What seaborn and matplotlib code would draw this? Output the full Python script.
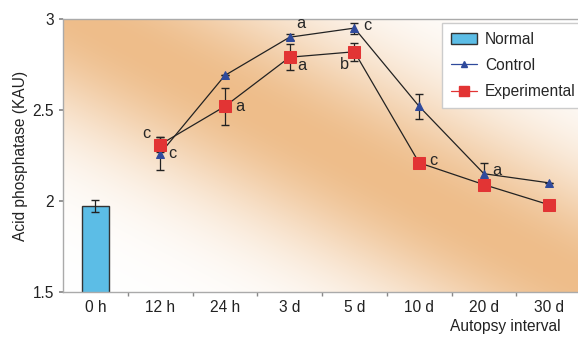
import matplotlib
matplotlib.use("Agg")
import matplotlib.pyplot as plt
from matplotlib.lines import Line2D
from matplotlib.patches import Patch
import numpy as np
import seaborn as sns

# --- data ---
categories = ["0 h", "12 h", "24 h", "3 d", "5 d", "10 d", "20 d", "30 d"]

normal_value = 1.97
normal_err = 0.033

control_values = [2.26, 2.69, 2.90, 2.95, 2.52, 2.15, 2.10]
control_errs = [0.09, 0.0, 0.015, 0.03, 0.07, 0.06, 0.0]
control_letters = ["c", "", "a", "c", "", "a", ""]

exp_values = [2.31, 2.52, 2.79, 2.82, 2.21, 2.09, 1.98]
exp_errs = [0.04, 0.10, 0.07, 0.05, 0.0, 0.0, 0.0]
exp_letters = ["c", "a", "a", "b", "c", "", ""]

# label offsets (points) for the significance letters
control_offsets = [(9, 0), None, (8, 10), (9, 2), None, (9, 2), None]
exp_offsets = [(-10, 8), (11, 0), (9, -6), (-7, -9), (10, 2), None, None]

BAR_BLUE = "#5cbde6"
CTRL_BLUE = "#2f4a9c"
EXP_RED = "#e23434"
ORANGE = np.array([238, 189, 138]) / 255
FS = 11.2

sns.set_theme(style="ticks")
plt.rcParams["font.family"] = ["Liberation Sans", "DejaVu Sans"]
plt.rcParams["font.size"] = FS

fig = plt.figure(figsize=(5.78, 3.38), dpi=100)
ax = fig.add_axes([63 / 578, 46 / 338, 518 / 578, 273 / 338])

# diagonal orange/white background
gx, gy = np.meshgrid(np.linspace(0, 1, 300), np.linspace(0, 1, 200))
t = (gx + gy) / 2
f = np.exp(-((t - 0.52) / 0.21) ** 2)
bg = (1 - f)[..., None] * np.ones(3) + f[..., None] * ORANGE
ax.imshow(bg, extent=(-0.5, 7.5, 1.5, 3.0), origin="lower", aspect="auto",
          zorder=0, interpolation="bilinear")

# Normal bar at 0 h
sns.barplot(x=[categories[0]], y=[normal_value], order=categories, ax=ax,
            color=BAR_BLUE, width=0.42, edgecolor="#333333", linewidth=1.0,
            saturation=1, errorbar=None, zorder=2)
ax.errorbar([0], [normal_value], yerr=[normal_err], fmt="none",
            ecolor="#222222", elinewidth=0.9, capsize=3, zorder=3)

pos = np.arange(1, len(categories))
ax.errorbar(pos, control_values, yerr=control_errs, fmt="none",
            ecolor="#222222", elinewidth=0.9, capsize=3, zorder=3)
ax.errorbar(pos, exp_values, yerr=exp_errs, fmt="none",
            ecolor="#222222", elinewidth=0.9, capsize=3, zorder=3)

sns.lineplot(x=pos, y=control_values, ax=ax, color="#222222", lw=0.9,
             marker="^", markersize=5.5, markerfacecolor=CTRL_BLUE,
             markeredgecolor=CTRL_BLUE, zorder=4)
sns.lineplot(x=pos, y=exp_values, ax=ax, color="#222222", lw=0.9,
             marker="s", markersize=8, markerfacecolor=EXP_RED,
             markeredgecolor=EXP_RED, zorder=5)

for x, y, lab, off in zip(pos, control_values, control_letters, control_offsets):
    if lab:
        ax.annotate(lab, (x, y), xytext=off, textcoords="offset points",
                    ha="center", va="center", fontsize=FS + 0.5, zorder=6)
for x, y, lab, off in zip(pos, exp_values, exp_letters, exp_offsets):
    if lab:
        ax.annotate(lab, (x, y), xytext=off, textcoords="offset points",
                    ha="center", va="center", fontsize=FS + 0.5, zorder=6)

ax.set_xlim(-0.5, 7.5)
ax.set_ylim(1.5, 3.0)
ax.set_yticks([1.5, 2.0, 2.5, 3.0])
ax.set_yticklabels(["1.5", "2", "2.5", "3"])
ax.set_xticks(range(len(categories)))
ax.set_xticklabels(categories)
ax.set_xticks(np.arange(0.5, 7.5, 1), minor=True)
ax.tick_params(axis="x", which="major", length=0, pad=6, labelsize=FS,
               colors="#222222")
ax.tick_params(axis="x", which="minor", length=3, color="#888888")
ax.tick_params(axis="y", length=3, color="#888888", labelsize=FS,
               labelcolor="#222222")
for side in ["left", "bottom", "top"]:
    ax.spines[side].set_color("#aaaaaa")
    ax.spines[side].set_linewidth(1.0)
ax.spines["right"].set_visible(False)

ax.set_xlabel("")
ax.set_ylabel("Acid phosphatase (KAU)", fontsize=FS, color="#222222",
              labelpad=3)
fig.text(505 / 578, 1 - 327 / 338, "Autopsy interval", ha="center",
         va="center", fontsize=FS, color="#222222")

handles = [
    Patch(facecolor=BAR_BLUE, edgecolor="#333333", label="Normal"),
    Line2D([0], [0], color=CTRL_BLUE, lw=0.9, marker="^", markersize=4,
           label="Control"),
    Line2D([0], [0], color=EXP_RED, lw=0.9, marker="s", markersize=7,
           label="Experimental"),
]
leg = ax.legend(handles=handles, loc="upper left",
                bbox_to_anchor=((442 - 63) / 518, (292 - 23) / 273),
                frameon=True, fancybox=False, edgecolor="#cccccc",
                framealpha=1, fontsize=FS, handlelength=1.7,
                handletextpad=0.5, borderpad=0.55,
                borderaxespad=0, labelspacing=0.72)
leg.set_zorder(10)

fig.savefig("out.png", dpi=100)
